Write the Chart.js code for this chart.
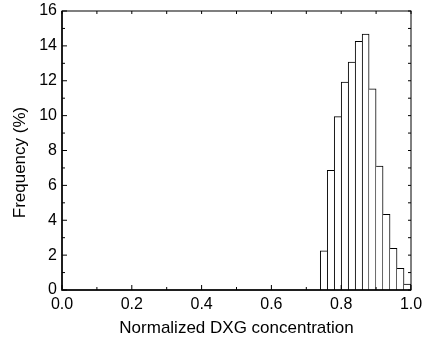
<!DOCTYPE html>
<html>
<head>
<meta charset="utf-8">
<script src="https://cdn.jsdelivr.net/npm/chart.js@4.4.1/dist/chart.umd.min.js"></script>
<style>
  body { margin: 0; background: #fff; }
  #wrap { width: 423px; height: 349px; }
</style>
</head>
<body>
<div id="wrap"><canvas id="chart"></canvas></div>
<script>
// histogram bins (normalized DXG concentration) and frequency in %
const binEdges = [0.74, 0.76, 0.78, 0.80, 0.82, 0.84, 0.86, 0.88, 0.90, 0.92, 0.94, 0.96, 0.98, 1.00];
const frequency = [2.24, 6.86, 9.94, 11.93, 13.07, 14.26, 14.68, 11.54, 7.11, 4.34, 2.39, 1.24, 0.34];
const xTickLabels = ['0.0', '0.2', '0.4', '0.6', '0.8', '1.0'];
const yTickLabels = ['0', '2', '4', '6', '8', '10', '12', '14', '16'];

const FONT = '"Liberation Sans", Arial, sans-serif';

const points = frequency.map((f, i) => ({ x: (binEdges[i] + binEdges[i + 1]) / 2, y: f }));

// only the taller of two neighbouring bars draws the shared edge
function edgeWidths(ctx) {
  const i = ctx.dataIndex;
  const h = frequency[i];
  const prev = i > 0 ? frequency[i - 1] : -1;
  const next = i < frequency.length - 1 ? frequency[i + 1] : -1;
  return { top: 1, bottom: 0, left: h >= prev ? 1 : 0, right: h > next ? 1 : 0 };
}

// axis box with inward ticks, plus the y title (sits a bit below centre in the original)
const frameTicks = {
  id: 'frameTicks',
  afterDraw(chart) {
    const { ctx, chartArea: a, scales: { x, y } } = chart;
    ctx.save();
    ctx.strokeStyle = '#000';
    ctx.lineWidth = 1;
    for (let i = 0; i <= 10; i++) {
      const px = x.getPixelForValue(i / 10);
      const len = i % 2 === 0 ? 5 : 3;
      ctx.beginPath();
      ctx.moveTo(px, a.bottom); ctx.lineTo(px, a.bottom - len);
      ctx.moveTo(px, a.top); ctx.lineTo(px, a.top + 3);
      ctx.stroke();
    }
    for (let v = 0; v <= 16; v++) {
      const py = y.getPixelForValue(v);
      const len = v % 2 === 0 ? 5 : 3;
      ctx.beginPath();
      ctx.moveTo(a.left, py); ctx.lineTo(a.left + len, py);
      ctx.moveTo(a.right, py); ctx.lineTo(a.right - 3, py);
      ctx.stroke();
    }
    ctx.strokeRect(a.left, a.top, a.right - a.left, a.bottom - a.top);
    ctx.lineWidth = 1.5;
    ctx.beginPath();
    ctx.moveTo(a.left, a.top); ctx.lineTo(a.left, a.bottom); ctx.lineTo(a.right, a.bottom);
    ctx.stroke();

    ctx.translate(20, a.top + (a.bottom - a.top) / 2 + 12);
    ctx.rotate(-Math.PI / 2);
    ctx.fillStyle = '#000';
    ctx.font = '17px ' + FONT;
    ctx.textAlign = 'center';
    ctx.textBaseline = 'middle';
    ctx.fillText('Frequency (%)', 0, 0);
    ctx.restore();
  }
};

new Chart(document.getElementById('chart'), {
  type: 'bar',
  data: {
    datasets: [{
      data: points,
      backgroundColor: '#fff',
      borderColor: '#000',
      borderWidth: edgeWidths,
      borderSkipped: false,
      barPercentage: 1,
      categoryPercentage: 1
    }]
  },
  options: {
    responsive: true,
    maintainAspectRatio: false,
    animation: false,
    layout: { padding: { top: 11, right: 12, bottom: 0, left: 0 } },
    plugins: { legend: { display: false }, tooltip: { enabled: false } },
    scales: {
      x: {
        type: 'linear',
        min: 0,
        max: 1,
        offset: false,
        grid: { display: false, drawTicks: false, offset: false },
        border: { display: false },
        ticks: {
          stepSize: 0.2,
          padding: 5,
          color: '#000',
          font: { family: FONT, size: 16 },
          maxRotation: 0,
          callback: (v) => xTickLabels[Math.round(v / 0.2)]
        },
        title: {
          display: true,
          text: 'Normalized DXG concentration',
          color: '#000',
          font: { family: FONT, size: 17 },
          padding: { top: 0, bottom: 10 }
        },
        afterFit: (s) => { s.height = 59; s.paddingLeft = 0; s.paddingRight = 0; }
      },
      y: {
        min: 0,
        max: 16,
        grid: { display: false, drawTicks: false },
        border: { display: false },
        ticks: {
          stepSize: 2,
          padding: 5,
          color: '#000',
          font: { family: FONT, size: 16 },
          callback: (v) => yTickLabels[Math.round(v / 2)]
        },
        title: { display: false },
        afterFit: (s) => { s.width = 62; s.paddingTop = 0; s.paddingBottom = 0; }
      }
    }
  },
  plugins: [frameTicks]
});
</script>
</body>
</html>
